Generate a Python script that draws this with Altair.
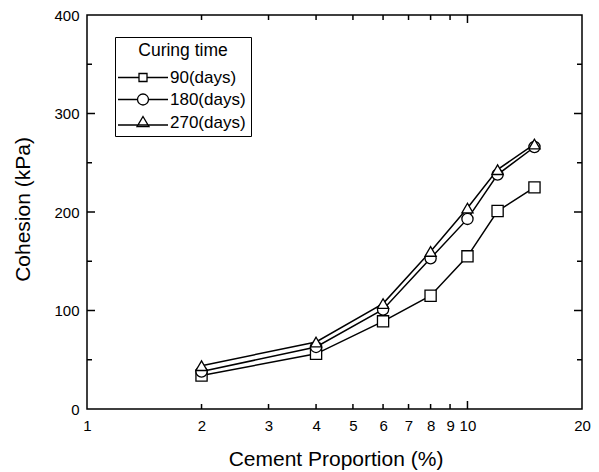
import altair as alt
import pandas as pd

# Cohesion measured at each cement proportion, one list per curing time
cement_pct = [2, 4, 6, 8, 10, 12, 15]
cohesion_90 = [34, 56, 89, 115, 155, 201, 225]
cohesion_180 = [38, 63, 101, 153, 193, 238, 266]
cohesion_270 = [44, 68, 107, 160, 204, 243, 269]
series_names = ["90(days)", "180(days)", "270(days)"]

# Axis labels and inward tick positions
x_tick_labels = [1, 2, 3, 4, 5, 6, 7, 8, 9, 10, 20]
y_tick_labels = [0, 100, 200, 300, 400]
x_minor_ticks = [2, 3, 4, 5, 6, 7, 8, 9]
x_major_ticks = [10]
y_major_ticks = [100, 200, 300]
y_minor_ticks = [50, 150, 250, 350]

FONT = "Liberation Sans"
W, H = 495, 394

rows = []
for name, values in zip(series_names, [cohesion_90, cohesion_180, cohesion_270]):
    for order, (p, c) in enumerate(zip(cement_pct, values)):
        rows.append({"series": name, "pct": p, "cohesion": c, "order": order})
df = pd.DataFrame(rows)

x_scale = alt.Scale(type="log", domain=[1, 20], nice=False)
y_scale = alt.Scale(domain=[0, 400], nice=False, zero=False)

x_axis = alt.Axis(
    values=x_tick_labels, ticks=False, domain=False, grid=False,
    labelPadding=9, labelFontSize=15, labelFont=FONT, labelColor="black",
    labelFlush=False, labelOverlap=False, format="d",
    title="Cement Proportion (%)", titleFont=FONT, titleFontSize=21,
    titleFontWeight="normal", titleColor="black",
    titleX=W / 2 + 1, titleY=56, titleAlign="center", titleBaseline="alphabetic",
)
y_axis = alt.Axis(
    values=y_tick_labels, ticks=False, domain=False, grid=False,
    labelPadding=8, labelFontSize=15, labelFont=FONT, labelColor="black",
    labelFlush=False, labelOverlap=False,
    title="Cohesion (kPa)", titleFont=FONT, titleFontSize=21,
    titleFontWeight="normal", titleColor="black",
    titleX=-64, titleY=H / 2 - 3, titleAngle=-90, titleAlign="center",
    titleBaseline="middle",
)

X = alt.X("pct:Q", scale=x_scale, axis=x_axis)
Y = alt.Y("cohesion:Q", scale=y_scale, axis=y_axis)

base = alt.Chart(df)

lines = base.mark_line(color="black", strokeWidth=1.5).encode(
    x=X, y=Y, detail="series:N", order="order:Q"
)

points = base.mark_point(
    filled=True, fill="white", stroke="black", strokeWidth=1.3, opacity=1, size=125
).encode(
    x=X, y=Y,
    shape=alt.Shape(
        "series:N",
        scale=alt.Scale(domain=series_names, range=["square", "circle", "triangle-up"]),
        legend=None,
    ),
)

# Legend symbols: a line stub with an open marker in the middle
# (unit = half of sqrt(symbolSize) = 10px, so the stub is 50px long)
legend_paths = [
    "M-2.5,0L-0.4,0M0.4,0L2.5,0M-0.4,-0.4L0.4,-0.4L0.4,0.4L-0.4,0.4Z",
    "M-2.5,0L-0.55,0M0.55,0L2.5,0M-0.55,0A0.55,0.55 0 1,0 0.55,0A0.55,0.55 0 1,0 -0.55,0Z",
    "M-2.5,0.25L2.5,0.25M0,-0.6L0.6,0.42L-0.6,0.42Z",
]

legend_layer = base.mark_point(
    filled=False, color="black", strokeWidth=1.3, opacity=1
).transform_filter("false").encode(
    x=X, y=Y,
    shape=alt.Shape(
        "series:N",
        scale=alt.Scale(domain=series_names, range=legend_paths),
        legend=alt.Legend(
            title="Curing time", orient="none", legendX=28, legendY=22,
            strokeColor="black", fillColor="white", padding=5,
            titleFont=FONT, titleFontSize=17.5, titleFontWeight="normal",
            titleColor="black", titleAnchor="middle", titlePadding=7,
            labelFont=FONT, labelFontSize=17, labelColor="black",
            symbolSize=400, symbolOffset=12, labelOffset=16,
            symbolStrokeColor="black", symbolStrokeWidth=1.3, rowPadding=3,
        ),
    ),
)

# Inward tick marks on all four sides of the frame
def y_ticks(values, x0, x1):
    return alt.Chart(pd.DataFrame({"cohesion": values})).mark_rule(
        color="black", strokeWidth=1.5
    ).encode(y=Y, x=alt.value(x0), x2=alt.value(x1))

def x_ticks(values, y0, y1):
    return alt.Chart(pd.DataFrame({"pct": values})).mark_rule(
        color="black", strokeWidth=1.5
    ).encode(x=X, y=alt.value(y0), y2=alt.value(y1))

ticks = [
    y_ticks(y_major_ticks, 0, 8), y_ticks(y_minor_ticks, 0, 5),
    y_ticks(y_major_ticks, W - 8, W), y_ticks(y_minor_ticks, W - 5, W),
    x_ticks(x_major_ticks, H, H - 8), x_ticks(x_minor_ticks, H, H - 5),
    x_ticks(x_major_ticks, 0, 8), x_ticks(x_minor_ticks, 0, 5),
]

chart = alt.layer(lines, points, legend_layer, *ticks).resolve_scale(
    shape="independent"
).properties(
    width=W, height=H,
    padding={"left": 87, "top": 15, "right": 17, "bottom": 63},
    autosize=alt.AutoSizeParams(type="none"),
    background="white",
).configure_view(stroke="black", strokeWidth=1.5)

chart.save("out.html", embed_options={"renderer": "svg", "actions": False})
